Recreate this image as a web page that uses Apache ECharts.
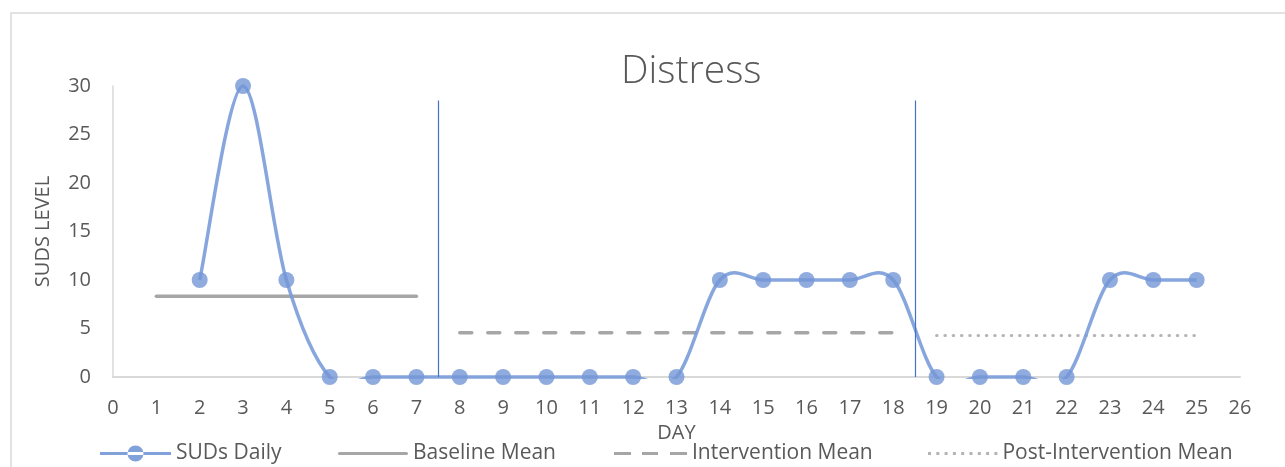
<!DOCTYPE html>
<html>
<head>
<meta charset="utf-8">
<script src="https://cdn.jsdelivr.net/npm/echarts@6/dist/echarts.min.js"></script>
<style>
  html, body { margin: 0; padding: 0; background: #ffffff; }
  #chart { width: 1285px; height: 467px; }
</style>
</head>
<body>
<div id="chart"></div>
<script>
// Daily SUDS ratings by day
const days = [2, 3, 4, 5, 6, 7, 8, 9, 10, 11, 12, 13, 14, 15, 16, 17, 18, 19, 20, 21, 22, 23, 24, 25];
const sudsDaily = [10, 30, 10, 0, 0, 0, 0, 0, 0, 0, 0, 0, 10, 10, 10, 10, 10, 0, 0, 0, 0, 10, 10, 10];

// Phase means: [startDay, endDay, value]
const baselineMean = [1, 7, 8.33];
const interventionMean = [8, 18, 4.55];
const postInterventionMean = [19, 25, 4.29];

// Phase change markers (day position, top value)
const phaseChanges = [7.5, 18.5];
const phaseLineTop = 28.5;

// Axis ranges
const xRange = [0, 26, 1];
const yRange = [0, 30, 5];

const TEXT = '#595959';
const FONT = 'Open Sans';
const MEAN_GRAY = '#a6a6a6';
const BLUE_LINE = 'rgba(122, 156, 217, 0.9)';
const BLUE_MARK = 'rgba(116, 150, 214, 0.8)';

const seg = (m) => [[m[0], m[2]], [m[1], m[2]]];

// Legend glyphs (filled paths sized to each legend item box)
const ICON_SUDS = 'path://M0,6.6 h71 v2.8 h-71 z M27.5,8 a8,8 0 1,0 16,0 a8,8 0 1,0 -16,0 z';
const ICON_SOLID = 'path://M1.5,0 h67 a1.5,1.5 0 0,1 0,3 h-67 a1.5,1.5 0 0,1 0,-3 z';
const ICON_DASH = 'path://M0,0 h17 v3 h-17 z M28,0 h16 v3 h-16 z M56,0 h17 v3 h-17 z';
const ICON_DOT = (function () {
  let p = 'path://';
  for (let i = 0; i < 9; i++) {
    const x = i * 8.3;
    p += 'M' + x + ',0 h3 v3 h-3 z ';
  }
  return p;
})();

// Cardinal (Catmull-Rom) smoothing through the data points, in pixel space
function smoothPath(pts) {
  const n = pts.length;
  let d = 'M' + pts[0][0] + ',' + pts[0][1];
  for (let i = 0; i < n - 1; i++) {
    const p0 = pts[Math.max(i - 1, 0)];
    const p1 = pts[i];
    const p2 = pts[i + 1];
    const p3 = pts[Math.min(i + 2, n - 1)];
    const c1x = p1[0] + (p2[0] - p0[0]) / 6;
    const c1y = p1[1] + (p2[1] - p0[1]) / 6;
    const c2x = p2[0] - (p3[0] - p1[0]) / 6;
    const c2y = p2[1] - (p3[1] - p1[1]) / 6;
    d += ' C' + c1x + ',' + c1y + ' ' + c2x + ',' + c2y + ' ' + p2[0] + ',' + p2[1];
  }
  return d;
}

const chart = echarts.init(document.getElementById('chart'), null, { renderer: 'canvas' });

const legendBase = {
  top: 443,
  padding: 0,
  itemGap: 0,
  textStyle: { color: TEXT, fontFamily: FONT, fontSize: 21 },
  selectedMode: false
};

chart.setOption({
  backgroundColor: '#ffffff',
  animation: false,
  title: {
    text: 'Distress',
    left: 616,
    top: 47,
    textStyle: { color: TEXT, fontFamily: FONT, fontSize: 39, fontWeight: 300 }
  },
  graphic: [{
    type: 'rect',
    shape: { x: 11, y: 13, width: 1300, height: 520 },
    style: { fill: 'none', stroke: '#d9d9d9', lineWidth: 1.5 },
    silent: true,
    z: -1
  }],
  legend: [
    Object.assign({}, legendBase, { left: 100, itemWidth: 71, itemHeight: 16,
      data: [{ name: 'SUDs Daily', icon: ICON_SUDS, itemStyle: { color: 'rgba(122,156,217,0.95)' } }] }),
    Object.assign({}, legendBase, { left: 338, itemWidth: 70, itemHeight: 3,
      data: [{ name: 'Baseline Mean', icon: ICON_SOLID, itemStyle: { color: MEAN_GRAY } }] }),
    Object.assign({}, legendBase, { left: 614, itemWidth: 73, itemHeight: 3,
      data: [{ name: 'Intervention Mean', icon: ICON_DASH, itemStyle: { color: MEAN_GRAY } }] }),
    Object.assign({}, legendBase, { left: 928, itemWidth: 69.4, itemHeight: 3,
      data: [{ name: 'Post-Intervention Mean', icon: ICON_DOT, itemStyle: { color: '#b4b4b4' } }] })
  ],
  grid: { left: 113, right: 45, top: 86, bottom: 90, containLabel: false },
  xAxis: {
    type: 'value',
    min: xRange[0], max: xRange[1], interval: xRange[2],
    name: 'DAY',
    nameLocation: 'middle',
    nameGap: 44,
    nameTextStyle: { color: TEXT, fontFamily: FONT, fontSize: 20 },
    axisLine: { show: true, lineStyle: { color: '#d9d9d9', width: 2 } },
    axisTick: { show: false },
    splitLine: { show: false },
    axisLabel: { color: TEXT, fontFamily: FONT, fontSize: 20, margin: 21 }
  },
  yAxis: {
    type: 'value',
    min: yRange[0], max: yRange[1], interval: yRange[2],
    name: 'SUDS LEVEL',
    nameLocation: 'middle',
    nameRotate: 90,
    nameGap: 60,
    nameTextStyle: { color: TEXT, fontFamily: FONT, fontSize: 20 },
    axisLine: { show: true, lineStyle: { color: '#d9d9d9', width: 1.5 } },
    axisTick: { show: false },
    splitLine: { show: false },
    axisLabel: { color: TEXT, fontFamily: FONT, fontSize: 20, margin: 22 }
  },
  series: [
    {
      // smoothed daily line, clipped just below the plot floor
      name: 'SUDs Daily',
      type: 'custom',
      coordinateSystem: 'cartesian2d',
      data: [[days[0], sudsDaily[0]]],
      silent: true,
      z: 4,
      renderItem: function (params, api) {
        const pts = days.map((d, i) => api.coord([d, sudsDaily[i]]));
        const cs = params.coordSys;
        return {
          type: 'group',
          children: [{
            type: 'path',
            shape: { pathData: smoothPath(pts) },
            style: { fill: 'none', stroke: BLUE_LINE, lineWidth: 3.5 }
          }],
          clipPath: {
            type: 'rect',
            shape: { x: cs.x - 10, y: cs.y - 10, width: cs.width + 20, height: cs.height + 12 }
          }
        };
      },
      markLine: {
        silent: true,
        symbol: 'none',
        label: { show: false },
        lineStyle: { color: '#4472c4', width: 1.2, type: 'solid', opacity: 1 },
        data: phaseChanges.map(x => [{ coord: [x, 0] }, { coord: [x, phaseLineTop] }])
      }
    },
    {
      // daily markers
      name: 'SUDs Daily',
      type: 'line',
      data: days.map((d, i) => [d, sudsDaily[i]]),
      symbol: 'circle',
      symbolSize: 16,
      itemStyle: { color: BLUE_MARK },
      lineStyle: { width: 0, opacity: 0 },
      z: 5
    },
    {
      name: 'Baseline Mean',
      type: 'line',
      data: seg(baselineMean),
      symbol: 'none',
      lineStyle: { color: MEAN_GRAY, width: 3.5, cap: 'round' },
      itemStyle: { color: MEAN_GRAY },
      z: 3
    },
    {
      name: 'Intervention Mean',
      type: 'line',
      data: seg(interventionMean),
      symbol: 'none',
      lineStyle: { color: MEAN_GRAY, width: 3.5, type: [12, 16], cap: 'round' },
      itemStyle: { color: MEAN_GRAY },
      z: 3
    },
    {
      name: 'Post-Intervention Mean',
      type: 'line',
      data: seg(postInterventionMean),
      symbol: 'none',
      lineStyle: { color: '#b4b4b4', width: 3, type: [0.5, 7.8], cap: 'round' },
      itemStyle: { color: '#b4b4b4' },
      z: 3
    }
  ]
});
</script>
</body>
</html>
